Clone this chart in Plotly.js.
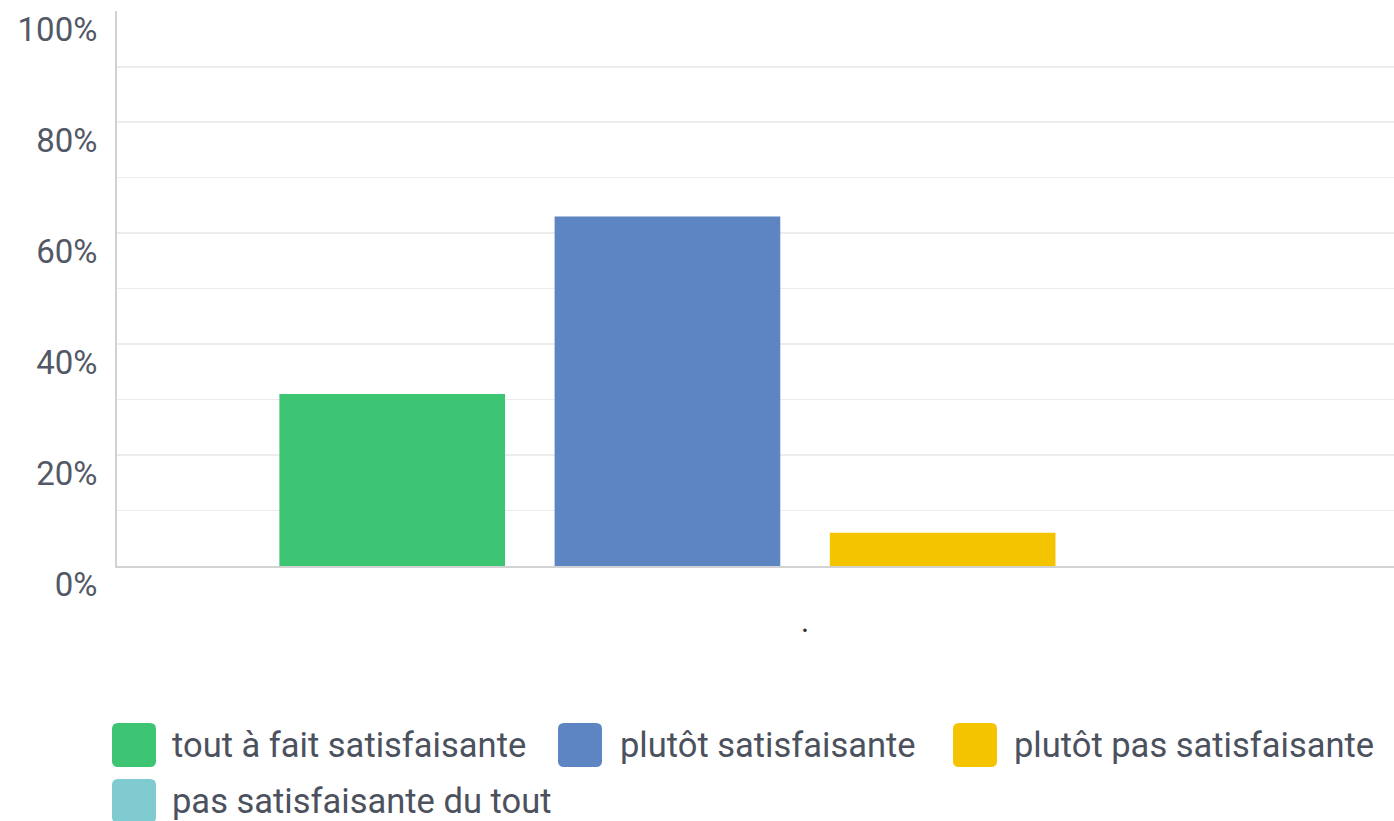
<!DOCTYPE html>
<html>
<head>
<meta charset="utf-8">
<script src="https://cdn.plot.ly/plotly-3.0.1.min.js"></script>
<style>html,body{margin:0;padding:0;background:#fff;}#chart{width:1394px;height:821px;}</style>
</head>
<body>
<div id="chart"></div>
<script>
// ---- data ----
const categories = ['.'];
const seriesNames = ['tout à fait satisfaisante', 'plutôt satisfaisante', 'plutôt pas satisfaisante', 'pas satisfaisante du tout'];
const seriesValues = [31, 63, 6, 0];
const seriesColors = ['#3ec574', '#5c85c1', '#f4c400', '#7fcbd0'];
const yTickVals = [0, 20, 40, 60, 80, 100];
const yTickText = ['0%', '20%', '40%', '60%', '80%', '100%'];

// ---- layout geometry ----
const W = 1394, H = 821;
const M = {l: 117, r: 0, t: 11, b: 255};
const PW = W - M.l - M.r, PH = H - M.t - M.b;
const px = x => (x - M.l) / PW;
const py = y => (H - M.b - y) / PH;

const traces = seriesNames.map((name, i) => ({
  type: 'bar',
  name: name,
  x: categories,
  y: [seriesValues[i]],
  marker: {color: seriesColors[i], line: {width: 0}},
  hoverinfo: 'none'
}));

// custom legend (large rounded swatches)
const legendPos = [
  {box: 112, text: 170, row: 0},
  {box: 558, text: 618, row: 0},
  {box: 953, text: 1012, row: 0},
  {box: 112, text: 170, row: 1}
];
const rowCenter = [745, 801];
const boxSize = 44, rad = 6;
const shapes = [];
const annotations = [];
function roundedPath(x0, y0, x1, y1, r) {
  const P = (x, y) => px(x) + ',' + py(y);
  return 'M' + P(x0 + r, y0) + ' L' + P(x1 - r, y0) + ' Q' + P(x1, y0) + ' ' + P(x1, y0 + r) +
    ' L' + P(x1, y1 - r) + ' Q' + P(x1, y1) + ' ' + P(x1 - r, y1) +
    ' L' + P(x0 + r, y1) + ' Q' + P(x0, y1) + ' ' + P(x0, y1 - r) +
    ' L' + P(x0, y0 + r) + ' Q' + P(x0, y0) + ' ' + P(x0 + r, y0) + ' Z';
}
seriesNames.forEach((name, i) => {
  const p = legendPos[i];
  const cy = rowCenter[p.row];
  shapes.push({
    type: 'path', xref: 'paper', yref: 'paper',
    path: roundedPath(p.box, cy - boxSize / 2, p.box + boxSize, cy + boxSize / 2, rad),
    fillcolor: seriesColors[i], line: {width: 0}
  });
  annotations.push({
    xref: 'paper', yref: 'paper', x: px(p.text), y: py(cy),
    xanchor: 'left', yanchor: 'middle', showarrow: false,
    text: name, font: {family: 'Roboto, sans-serif', size: 34.5, color: '#4c515e'}
  });
});

const layout = {
  width: W, height: H,
  margin: M,
  paper_bgcolor: '#ffffff', plot_bgcolor: '#ffffff',
  showlegend: false,
  barmode: 'group',
  bargap: 0.2,
  bargroupgap: 0.18,
  font: {family: 'Roboto, sans-serif', color: '#575c68'},
  xaxis: {
    type: 'category',
    range: [-0.5, 0.428],
    showgrid: false,
    zeroline: false,
    showline: true, linecolor: '#d2d2d2', linewidth: 2,
    ticks: '',
    ticklabelstandoff: 27,
    tickfont: {size: 31, color: '#333'}
  },
  yaxis: {
    range: [0, 100.05],
    tickvals: yTickVals,
    ticktext: yTickText,
    showgrid: true, gridcolor: '#ececec', gridwidth: 1.5,
    minor: {tickvals: [10, 30, 50, 70, 90], showgrid: true, gridcolor: '#ececec', gridwidth: 1.5},
    zeroline: false,
    showline: true, linecolor: '#d2d2d2', linewidth: 2,
    ticks: '',
    ticklabelstandoff: 11,
    ticklabelshift: 18,
    tickfont: {size: 33, color: '#535866'}
  },
  shapes: shapes,
  annotations: annotations
};

Plotly.newPlot('chart', traces, layout, {displayModeBar: false, staticPlot: true});
</script>
</body>
</html>
